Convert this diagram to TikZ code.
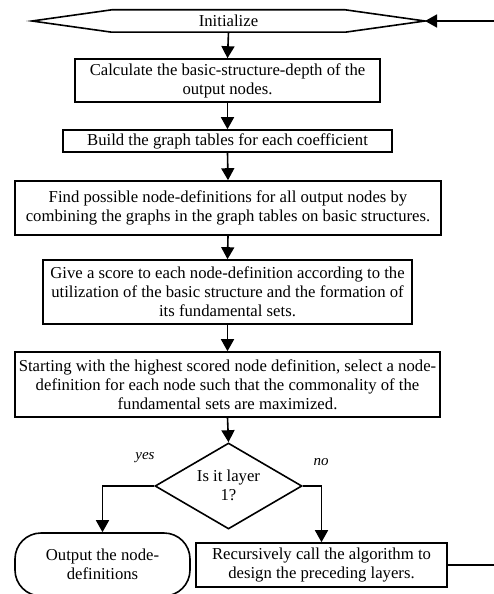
\documentclass[tikz,border=0pt]{standalone}
\usepackage{fontspec}
\setmainfont{Liberation Serif}
\usetikzlibrary{arrows.meta,shapes.geometric}
\begin{document}
\begin{tikzpicture}[x=1pt,y=-1pt,
  every node/.style={font=\fontsize{16.7}{19}\selectfont},
  box/.style={draw,line width=1.6pt,inner sep=0pt,align=center},
  lbl/.style={font=\fontsize{15}{17}\selectfont\itshape},
  arr/.style={line width=1.6pt,-{Triangle[length=12pt,width=13pt]}},
  ln/.style={line width=1.6pt}]
\useasboundingbox (0,0) rectangle (493,594);
\node[inner sep=0pt,minimum width=233pt,minimum height=22pt] (init) at (228.5,21) {Initialize};
\coordinate (initL) at (32,21);
\coordinate (initR) at (425,21);
\draw[ln,line join=miter] (init.north west) -- (init.north east) -- (initR) -- (init.south east) -- (init.south west) -- (initL) -- cycle;
\node[box,minimum width=305pt,minimum height=43pt] (b1) at (227.5,80.5) {Calculate the basic-structure-depth of the\\output nodes.};
\node[box,minimum width=329pt,minimum height=22pt] (b2) at (227.5,141) {Build the graph tables for each coefficient};
\node[box,minimum width=426pt,minimum height=54pt] (b3) at (228,208) {Find possible node-definitions for all output nodes by\\combining the graphs in the graph tables on basic structures.};
\node[box,minimum width=369pt,minimum height=64pt] (b4) at (227.5,292) {Give a score to each node-definition according to the\\utilization of the basic structure and the formation of\\its fundamental sets.};
\node[box,minimum width=425pt,minimum height=65pt] (b5) at (227.5,384.5) {Starting with the highest scored node definition, select a node-\\definition for each node such that the commonality of the\\fundamental sets are maximized.};
\node[box,diamond,minimum width=147pt,minimum height=86pt,aspect=1.7] (d) at (228.5,486) {};
\node[align=center,inner sep=0pt] (dt) at (228.5,485) {Is it layer\\1?};
\node[box,rounded corners=26pt,minimum width=175pt,minimum height=63pt] (out) at (102.5,564.5) {Output the node-\\definitions};
\node[box,minimum width=251pt,minimum height=44pt] (b6) at (321.5,565) {Recursively call the algorithm to\\design the preceding layers.};
\node[lbl] (yes) at (145,458) {yes};
\node[lbl] (no) at (321,462) {no};
\coordinate (fb) at (520,300);
\draw[arr] (init.south) -- (b1.north);
\draw[arr] (b1.south) -- (b2.north);
\draw[arr] (b2.south) -- (b3.north);
\draw[arr] (b3.south) -- (b4.north);
\draw[arr] (b4.south) -- (b5.north);
\draw[arr] (b5.south) -- (d.north);
\draw[arr] (d.west) -| (out.north);
\draw[arr] (d.east) -| (b6.north);
\draw[arr] (b6.east) -| (fb) |- (initR);
\end{tikzpicture}
\end{document}
